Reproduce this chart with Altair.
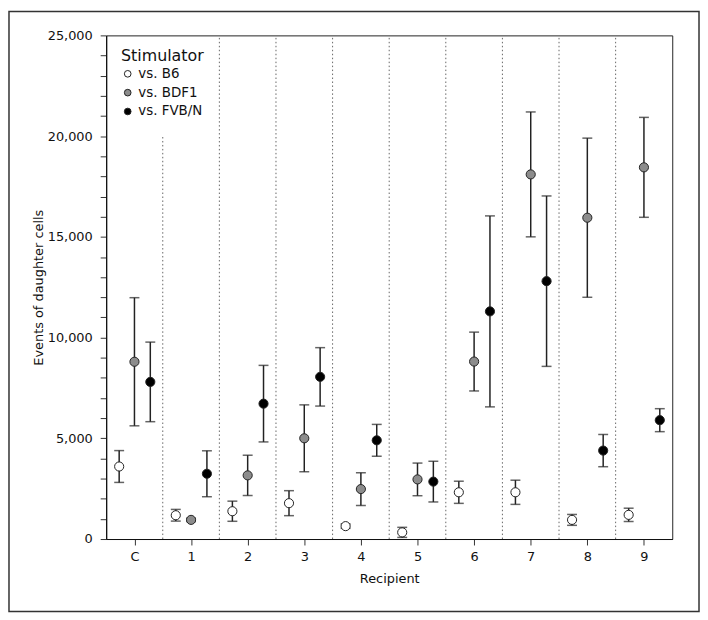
import altair as alt
import pandas as pd

groups = ["C", "1", "2", "3", "4", "5", "6", "7", "8", "9"]
series = ["vs. B6", "vs. BDF1", "vs. FVB/N"]

b6_mean = [3600, 1180, 1380, 1780, 640, 330, 2320, 2320, 950, 1200]
b6_err = [790, 290, 500, 620, 110, 250, 550, 600, 270, 330]
bdf1_mean = [8800, 950, 3160, 5000, 2480, 2960, 8810, 18100, 15950, 18450]
bdf1_err = [3180, 80, 1000, 1660, 810, 810, 1460, 3100, 3950, 2480]
fvb_mean = [7800, 3240, 6720, 8050, 4900, 2850, 11300, 12800, 4390, 5900]
fvb_err = [1975, 1140, 1900, 1450, 790, 1010, 4740, 4230, 800, 570]

offsets = [-0.27, 0.0, 0.28]
fills = ["white", "#8c8c8c", "black"]

sep_x = [0.5, 1.5, 2.5, 3.5, 4.5, 5.5, 6.5, 7.5, 8.5]
sep_top = [20000, 25000, 25000, 25000, 25000, 25000, 25000, 25000, 25000]

rows = []
for si, (s, means, errs) in enumerate(zip(series, [b6_mean, bdf1_mean, fvb_mean],
                                          [b6_err, bdf1_err, fvb_err])):
    for gi, g in enumerate(groups):
        rows.append(dict(stim=s, group=g, pos=gi + offsets[si], mean=means[gi],
                         lo=means[gi] - errs[gi], hi=means[gi] + errs[gi]))
df = pd.DataFrame(rows)
sep_df = pd.DataFrame({"x": sep_x, "y0": [0] * len(sep_x), "y1": sep_top})

FONT = "DejaVu Sans"
label_expr = "[" + ",".join(f"'{g}'" for g in groups) + "][round(datum.value)]"

xscale = alt.Scale(domain=[-0.5, 9.5], nice=False, zero=False)
yscale = alt.Scale(domain=[0, 25000], nice=False)
xaxis = alt.Axis(values=list(range(10)), labelExpr=label_expr, title="Recipient",
                 grid=False, tickSize=6, labelPadding=6, titlePadding=9)
yaxis = alt.Axis(values=list(range(0, 25001, 1000)),
                 labelExpr="datum.value % 5000 == 0 ? format(datum.value, ',') : ''",
                 title="Events of daughter cells", grid=False, tickSize=6,
                 labelPadding=8, titlePadding=2)

seps = alt.Chart(sep_df).mark_rule(color="#666", strokeWidth=1, strokeDash=[1.5, 2.5]).encode(
    x=alt.X("x:Q", scale=xscale, axis=xaxis),
    y=alt.Y("y0:Q", scale=yscale, axis=yaxis),
    y2="y1:Q",
)

bars = alt.Chart(df).mark_rule(color="#222", strokeWidth=1.5).encode(
    x=alt.X("pos:Q", scale=xscale, axis=xaxis),
    y=alt.Y("lo:Q", scale=yscale, axis=yaxis),
    y2="hi:Q",
)

cap_lo = alt.Chart(df).mark_tick(orient="horizontal", size=10, thickness=1.5, color="#222").encode(
    x=alt.X("pos:Q", scale=xscale, axis=xaxis),
    y=alt.Y("lo:Q", scale=yscale, axis=yaxis),
)
cap_hi = alt.Chart(df).mark_tick(orient="horizontal", size=10, thickness=1.5, color="#222").encode(
    x=alt.X("pos:Q", scale=xscale, axis=xaxis),
    y=alt.Y("hi:Q", scale=yscale, axis=yaxis),
)

points = alt.Chart(df).mark_circle(size=85, stroke="#222", strokeWidth=1, opacity=1).encode(
    x=alt.X("pos:Q", scale=xscale, axis=xaxis),
    y=alt.Y("mean:Q", scale=yscale, axis=yaxis),
    fill=alt.Fill("stim:N", scale=alt.Scale(domain=series, range=fills),
                  legend=alt.Legend(title="Stimulator", orient="none", legendX=15, legendY=13,
                                    titleFontSize=16, titleFontWeight="normal", titleColor="#111",
                                    titleFont=FONT, labelFont=FONT, labelFontSize=13.5,
                                    labelColor="#111", symbolType="circle", symbolSize=45,
                                    symbolStrokeWidth=1, rowPadding=4, titlePadding=3,
                                    labelOffset=4)),
)

frame = alt.Chart(alt.Data(values=[{"a": 1}])).mark_rect(
    fillOpacity=0, stroke="#333", strokeWidth=1.5
).encode(
    x=alt.value(-98), x2=alt.value(598), y=alt.value(-24), y2=alt.value(581)
)

chart = alt.layer(frame, seps, bars, cap_lo, cap_hi, points).properties(
    width=571, height=508, padding=0
).configure_view(
    stroke="#222", strokeWidth=1
).configure_axis(
    labelFont=FONT, titleFont=FONT, labelFontSize=13, titleFontSize=13,
    labelColor="#111", titleColor="#111", titleFontWeight="normal",
    domainColor="#111", tickColor="#333", domainWidth=1.2,
)

chart.save("out.html", embed_options={"renderer": "svg", "actions": False})
